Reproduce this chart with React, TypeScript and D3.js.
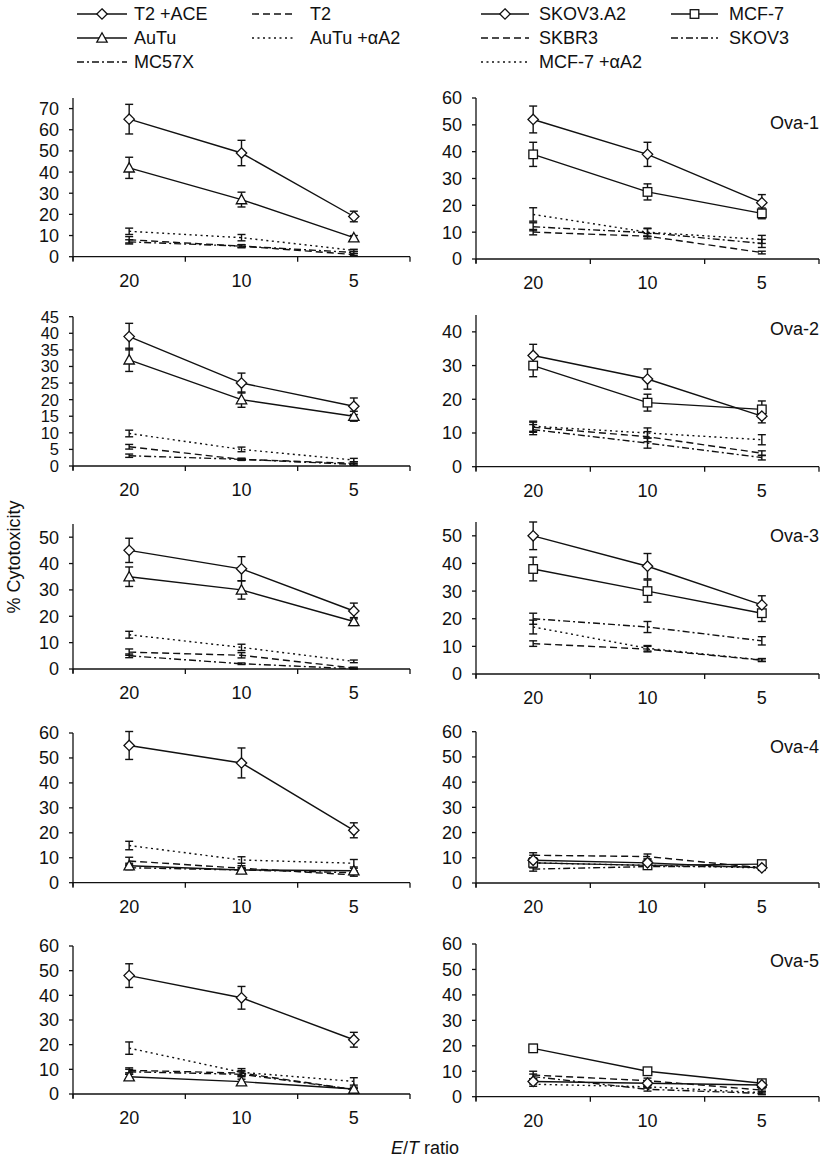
import React from "react";
import * as d3 from "d3";

// ---------- data ----------
const ratios = ["20", "10", "5"];
const panelNames = ["Ova-1", "Ova-2", "Ova-3", "Ova-4", "Ova-5"];

// left column (effector specificity on T2 / AuTu targets)
const t2AceValues = [[65, 49, 19], [39, 25, 18], [45, 38, 22], [55, 48, 21], [48, 39, 22]];
const t2AceErrors = [[7, 6, 2.5], [4, 3, 2.5], [4.6, 4.6, 3], [5.6, 6, 3], [4.8, 4.6, 3]];
const auTuValues = [[42, 27, 9], [32, 20, 15], [35, 30, 18], [6.8, 5.1, 4.8], [7, 5, 2]];
const auTuErrors = [[5, 3.5, 1], [3.5, 2.3, 1.5], [3.7, 3.5, 1.5], [1, 1, 1], [1, 1, 0.8]];
const t2Values = [[8, 5, 1], [5.8, 2, 0.8], [6.4, 5.2, 0.4], [8.7, 5.8, 3.1], [9.6, 8.5, 1.8]];
const t2Errors = [[1.5, 0.7, 0.5], [0.7, 0.3, 0.5], [1.2, 1, 0.3], [1.5, 1, 0.5], [1, 1, 0.5]];
const auTuA2Values = [[12, 9, 3], [9.8, 5, 1.8], [13, 8.2, 2.9], [14.9, 9.1, 7.8], [18.6, 8.8, 5.1]];
const auTuA2Errors = [[1.5, 1.5, 0.5], [1, 0.7, 0.5], [1.3, 1.2, 0.5], [1.7, 1.3, 1.5], [2.5, 1.5, 1.5]];
const mc57xValues = [[7, 5, 2], [3.1, 2, 0.5], [5, 2, 0.1], [6, 5.1, 4], [9, 8, 1.8]];
const mc57xErrors = [[1, 0.7, 0.5], [0.5, 0.3, 0.3], [0.7, 0.3, 0.2], [0.8, 0.7, 0.7], [1, 1, 0.5]];

// right column (tumour lines)
const skov3A2Values = [[52, 39, 21], [33, 26, 15], [50, 39, 25], [9, 8, 6], [6, 5.3, 4.6]];
const skov3A2Errors = [[5, 4.5, 3], [3.3, 3, 2], [5, 4.6, 3.3], [2, 1.5, 1], [1, 1, 0.8]];
const mcf7Values = [[39, 25, 17], [30, 19, 17], [38, 30, 22], [8, 7, 7.5], [19, 10, 5.3]];
const mcf7Errors = [[4.5, 3, 2], [3.3, 2.5, 2.5], [4.3, 4, 3], [2, 1.5, 1], [1.5, 0.8, 0.8]];
const skbr3Values = [[10, 8.5, 2.4], [11.7, 8.9, 4], [11, 9, 5], [11, 10.5, 6], [8.5, 6.3, 2.6]];
const skbr3Errors = [[1, 1, 0.5], [1.5, 1.5, 0.7], [1, 1, 0.5], [1, 1, 0.5], [1.5, 1, 0.5]];
const skov3Values = [[12, 9.8, 5.8], [11, 7, 2.7], [20, 17, 12], [5.5, 6.5, 6.5], [7.9, 2.9, 1.3]];
const skov3Errors = [[1.5, 1.5, 1.5], [1.5, 1.5, 0.7], [2, 2, 1.5], [0.8, 0.8, 0.8], [1, 0.7, 0.5]];
const mcf7A2Values = [[16.6, 10, 7.3], [12, 10, 8], [17, 9.3, 5.1], [8, 7, 6], [4.9, 3.9, 1.6]];
const mcf7A2Errors = [[2.5, 1.5, 1.5], [1.5, 1.5, 1.5], [2.5, 1, 0.5], [1, 1, 0.5], [0.8, 0.5, 0.5]];

const leftYMax = [75, 45, 55, 60, 60];
const leftYStep = [10, 5, 10, 10, 10];
const rightYMax = [60, 45, 55, 60, 60];
const rightYStep = [10, 10, 10, 10, 10];

// ---------- styles ----------
type Marker = "diamond" | "triangle" | "square" | "none";
interface Series {
  name: string;
  values: number[][];
  errors: number[][];
  dash: string | null;
  marker: Marker;
}

const DASHED = "7,4";
const DOTTED = "2,3.5";
const DASHDOT = "7,3,2,3";

const leftSeries: Series[] = [
  { name: "T2", values: t2Values, errors: t2Errors, dash: DASHED, marker: "none" },
  { name: "AuTu +αA2", values: auTuA2Values, errors: auTuA2Errors, dash: DOTTED, marker: "none" },
  { name: "MC57X", values: mc57xValues, errors: mc57xErrors, dash: DASHDOT, marker: "none" },
  { name: "AuTu", values: auTuValues, errors: auTuErrors, dash: null, marker: "triangle" },
  { name: "T2 +ACE", values: t2AceValues, errors: t2AceErrors, dash: null, marker: "diamond" },
];
const rightSeries: Series[] = [
  { name: "SKBR3", values: skbr3Values, errors: skbr3Errors, dash: DASHED, marker: "none" },
  { name: "SKOV3", values: skov3Values, errors: skov3Errors, dash: DASHDOT, marker: "none" },
  { name: "MCF-7 +αA2", values: mcf7A2Values, errors: mcf7A2Errors, dash: DOTTED, marker: "none" },
  { name: "MCF-7", values: mcf7Values, errors: mcf7Errors, dash: null, marker: "square" },
  { name: "SKOV3.A2", values: skov3A2Values, errors: skov3A2Errors, dash: null, marker: "diamond" },
];

// ---------- layout ----------
const W = 825;
const H = 1161;
const FONT = "'Liberation Sans', Arial, Helvetica, sans-serif";
const FS = 18;
const INK = "#111";

const leftX = [73, 410];
const rightX = [476, 819];
// [zero line y, top of axis y] per row
const leftRows = [[256.7, 98], [466, 316.7], [669, 524], [882.7, 733], [1094, 946]];
const rightRows = [[259, 98], [466.7, 315], [674, 522], [883, 731.7], [1096.7, 944]];
const titleOffset = [25, 14, 14, 15, 17];

function MarkerShape({ type, x, y }: { type: Marker; x: number; y: number }) {
  if (type === "diamond") {
    const r = 5.2;
    return (
      <path
        d={`M${x},${y - r}L${x + r},${y}L${x},${y + r}L${x - r},${y}Z`}
        fill="#fff"
        stroke={INK}
        strokeWidth={1.3}
      />
    );
  }
  if (type === "triangle") {
    const r = 5.2;
    return (
      <path
        d={`M${x},${y - r}L${x + r},${y + r * 0.8}L${x - r},${y + r * 0.8}Z`}
        fill="#fff"
        stroke={INK}
        strokeWidth={1.3}
      />
    );
  }
  if (type === "square") {
    const r = 4.3;
    return <rect x={x - r} y={y - r} width={2 * r} height={2 * r} fill="#fff" stroke={INK} strokeWidth={1.3} />;
  }
  return null;
}

function Panel({
  idx,
  xr,
  row,
  yMax,
  step,
  series,
  title,
}: {
  idx: number;
  xr: number[];
  row: number[];
  yMax: number;
  step: number;
  series: Series[];
  title?: string;
}) {
  const x = d3.scaleBand<string>().domain(ratios).range([xr[0], xr[1]]);
  const y = d3.scaleLinear().domain([0, yMax]).range([row[0], row[1]]);
  const ticks = d3.range(0, yMax + 0.001, step).filter((t) => t <= yMax);
  const cx = (r: string) => (x(r) as number) + x.bandwidth() / 2;
  const line = d3
    .line<number>()
    .x((_, i) => cx(ratios[i]))
    .y((v) => y(v));
  const boundaries = [...ratios.map((r) => x(r) as number), xr[1]];
  const spacing = Math.abs(y(step) - y(0));
  const tickFs = spacing < 20 ? 16.5 : FS;
  return (
    <g>
      {/* axes */}
      <line x1={xr[0]} x2={xr[0]} y1={row[1]} y2={row[0] + 4} stroke={INK} strokeWidth={1.3} />
      <line x1={xr[0]} x2={xr[1]} y1={row[0]} y2={row[0]} stroke={INK} strokeWidth={1.3} />
      {ticks.map((t) => (
        <g key={t}>
          <line x1={xr[0] - 4} x2={xr[0]} y1={y(t)} y2={y(t)} stroke={INK} strokeWidth={1.3} />
          <text
            x={xr[0] - 14}
            y={y(t)}
            dy="0.36em"
            textAnchor="end"
            fontFamily={FONT}
            fontSize={tickFs}
            fill={INK}
          >
            {t}
          </text>
        </g>
      ))}
      {boundaries.map((b, i) => (
        <line key={i} x1={b} x2={b} y1={row[0]} y2={row[0] + 5} stroke={INK} strokeWidth={1.3} />
      ))}
      {ratios.map((r) => (
        <text
          key={r}
          x={cx(r)}
          y={row[0] + 24}
          dy="0.36em"
          textAnchor="middle"
          fontFamily={FONT}
          fontSize={FS}
          fill={INK}
        >
          {r}
        </text>
      ))}
      {/* lines */}
      {series.map((s) => (
        <path
          key={s.name}
          d={line(s.values[idx]) as string}
          fill="none"
          stroke={INK}
          strokeWidth={1.4}
          strokeDasharray={s.dash ?? undefined}
        />
      ))}
      {/* error bars */}
      {series.map((s) =>
        s.values[idx].map((v, i) => {
          const e = s.errors[idx][i];
          const px = cx(ratios[i]);
          const y1 = y(v + e);
          const y2 = y(Math.max(0, v - e));
          return (
            <g key={s.name + i}>
              <line x1={px} x2={px} y1={y1} y2={y2} stroke={INK} strokeWidth={1.4} />
              <line x1={px - 4} x2={px + 4} y1={y1} y2={y1} stroke={INK} strokeWidth={1.4} />
              <line x1={px - 4} x2={px + 4} y1={y2} y2={y2} stroke={INK} strokeWidth={1.4} />
            </g>
          );
        })
      )}
      {/* markers */}
      {series.map((s) =>
        s.values[idx].map((v, i) => (
          <MarkerShape key={s.name + "m" + i} type={s.marker} x={cx(ratios[i])} y={y(v)} />
        ))
      )}
      {title && (
        <text
          x={xr[1]}
          y={row[1] + titleOffset[idx]}
          dy="0.36em"
          textAnchor="end"
          fontFamily={FONT}
          fontSize={FS}
          fill={INK}
        >
          {title}
        </text>
      )}
    </g>
  );
}

function LegendItem({
  x1,
  x2,
  tx,
  y,
  dash,
  marker,
  label,
}: {
  x1: number;
  x2: number;
  tx: number;
  y: number;
  dash: string | null;
  marker: Marker;
  label: string;
}) {
  return (
    <g>
      <line x1={x1} x2={x2} y1={y} y2={y} stroke={INK} strokeWidth={1.4} strokeDasharray={dash ?? undefined} />
      <MarkerShape type={marker} x={(x1 + x2) / 2} y={y} />
      <text x={tx} y={y} dy="0.36em" fontFamily={FONT} fontSize={FS} fill={INK}>
        {label}
      </text>
    </g>
  );
}

export default function App() {
  const legendRows = [14, 38, 62];
  const byName = (arr: Series[], n: string) => arr.find((s) => s.name === n) as Series;
  const leftLegend = [
    { s: byName(leftSeries, "T2 +ACE"), col: 0, row: 0 },
    { s: byName(leftSeries, "T2"), col: 1, row: 0 },
    { s: byName(leftSeries, "AuTu"), col: 0, row: 1 },
    { s: byName(leftSeries, "AuTu +αA2"), col: 1, row: 1 },
    { s: byName(leftSeries, "MC57X"), col: 0, row: 2 },
  ];
  const rightLegend = [
    { s: byName(rightSeries, "SKOV3.A2"), col: 0, row: 0 },
    { s: byName(rightSeries, "MCF-7"), col: 1, row: 0 },
    { s: byName(rightSeries, "SKBR3"), col: 0, row: 1 },
    { s: byName(rightSeries, "SKOV3"), col: 1, row: 1 },
    { s: byName(rightSeries, "MCF-7 +αA2"), col: 0, row: 2 },
  ];
  const leftCols = [
    [77, 127, 134],
    [252, 293, 310],
  ];
  const rightCols = [
    [481, 529, 539],
    [671, 718, 729],
  ];
  return (
    <svg
      width={W}
      height={H}
      viewBox={`0 0 ${W} ${H}`}
      style={{ position: "absolute", left: 0, top: 0, background: "#fff" }}
    >
      <rect width={W} height={H} fill="#fff" />
      {leftLegend.map((it) => (
        <LegendItem
          key={it.s.name}
          x1={leftCols[it.col][0]}
          x2={leftCols[it.col][1]}
          tx={leftCols[it.col][2]}
          y={legendRows[it.row]}
          dash={it.s.dash}
          marker={it.s.marker}
          label={it.s.name}
        />
      ))}
      {rightLegend.map((it) => (
        <LegendItem
          key={it.s.name}
          x1={rightCols[it.col][0]}
          x2={rightCols[it.col][1]}
          tx={rightCols[it.col][2]}
          y={legendRows[it.row]}
          dash={it.s.dash}
          marker={it.s.marker}
          label={it.s.name}
        />
      ))}
      {panelNames.map((p, i) => (
        <g key={p}>
          <Panel idx={i} xr={leftX} row={leftRows[i]} yMax={leftYMax[i]} step={leftYStep[i]} series={leftSeries} />
          <Panel
            idx={i}
            xr={rightX}
            row={rightRows[i]}
            yMax={rightYMax[i]}
            step={rightYStep[i]}
            series={rightSeries}
            title={p}
          />
        </g>
      ))}
      <text
        transform="translate(20,557) rotate(-90)"
        textAnchor="middle"
        fontFamily={FONT}
        fontSize={FS}
        fill={INK}
      >
        % Cytotoxicity
      </text>
      <text x={425} y={1154} textAnchor="middle" fontFamily={FONT} fontSize={FS} fill={INK}>
        <tspan fontStyle="italic">E</tspan>/<tspan fontStyle="italic">T</tspan> ratio
      </text>
    </svg>
  );
}
